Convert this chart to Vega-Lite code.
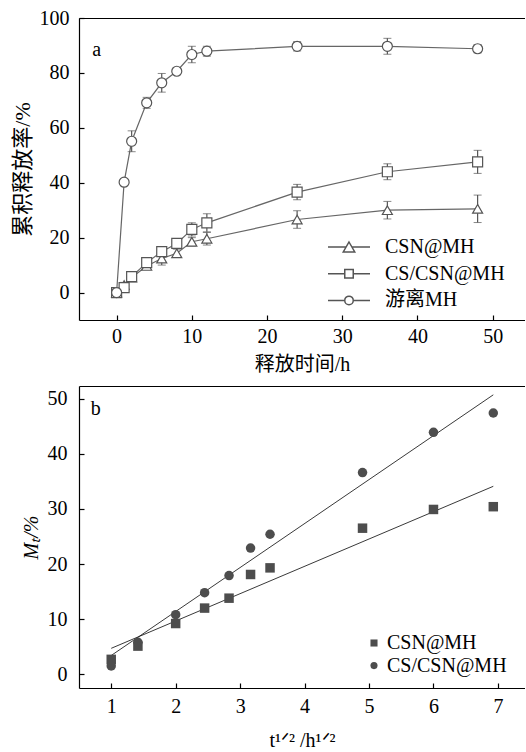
{
  "$schema": "https://vega.github.io/schema/vega-lite/v6.json",
  "padding": {"left": 11, "top": 8, "right": 0, "bottom": 0},
  "spacing": 12,
  "resolve": {"scale": {"shape": "independent"}, "legend": {"shape": "independent"}},
  "config": {
    "view": {"stroke": null},
    "font": "Liberation Serif, Noto Sans CJK SC",
    "axis": {
      "domainColor": "black", "domainWidth": 1.2, "tickColor": "black", "tickSize": -5, "tickWidth": 1.2,
      "labelFontSize": 20, "labelColor": "black", "labelFont": "Liberation Serif",
      "titleFontSize": 20, "titleFontWeight": "normal", "titleColor": "black",
      "titleFont": "Liberation Serif, Noto Sans CJK SC", "grid": false
    }
  },
  "datasets": {
    "release": [
      {"series": "CSN@MH", "t": 0, "y": 0, "err": 0},
      {"series": "CSN@MH", "t": 1, "y": 2.7, "err": 1},
      {"series": "CSN@MH", "t": 2, "y": 5.5, "err": 1},
      {"series": "CSN@MH", "t": 4, "y": 9.7, "err": 1},
      {"series": "CSN@MH", "t": 6, "y": 12.4, "err": 2.4},
      {"series": "CSN@MH", "t": 8, "y": 14.3, "err": 1.5},
      {"series": "CSN@MH", "t": 10, "y": 18.5, "err": 1.5},
      {"series": "CSN@MH", "t": 12, "y": 19.6, "err": 2.3},
      {"series": "CSN@MH", "t": 24, "y": 26.6, "err": 3.2},
      {"series": "CSN@MH", "t": 36, "y": 30.0, "err": 3.2},
      {"series": "CSN@MH", "t": 48, "y": 30.5, "err": 5},
      {"series": "CS/CSN@MH", "t": 0, "y": 0, "err": 0},
      {"series": "CS/CSN@MH", "t": 1, "y": 1.8, "err": 1},
      {"series": "CS/CSN@MH", "t": 2, "y": 5.8, "err": 1},
      {"series": "CS/CSN@MH", "t": 4, "y": 10.9, "err": 1},
      {"series": "CS/CSN@MH", "t": 6, "y": 14.9, "err": 1},
      {"series": "CS/CSN@MH", "t": 8, "y": 17.9, "err": 1.5},
      {"series": "CS/CSN@MH", "t": 10, "y": 23.0, "err": 2.4},
      {"series": "CS/CSN@MH", "t": 12, "y": 25.4, "err": 3.3},
      {"series": "CS/CSN@MH", "t": 24, "y": 36.6, "err": 2.8},
      {"series": "CS/CSN@MH", "t": 36, "y": 44.0, "err": 2.9},
      {"series": "CS/CSN@MH", "t": 48, "y": 47.6, "err": 4.2},
      {"series": "游离MH", "t": 0, "y": 0, "err": 0},
      {"series": "游离MH", "t": 1, "y": 40.2, "err": 1},
      {"series": "游离MH", "t": 2, "y": 55.1, "err": 3.8},
      {"series": "游离MH", "t": 4, "y": 69.1, "err": 2},
      {"series": "游离MH", "t": 6, "y": 76.4, "err": 3.4},
      {"series": "游离MH", "t": 8, "y": 80.6, "err": 1.2},
      {"series": "游离MH", "t": 10, "y": 86.7, "err": 3},
      {"series": "游离MH", "t": 12, "y": 87.9, "err": 1.8},
      {"series": "游离MH", "t": 24, "y": 89.7, "err": 1.7},
      {"series": "游离MH", "t": 36, "y": 89.7, "err": 2.9},
      {"series": "游离MH", "t": 48, "y": 88.8, "err": 1.5}
    ],
    "kinetics": [
      {"series": "CSN@MH", "s": 1, "y": 2.7},
      {"series": "CSN@MH", "s": 1.414, "y": 5.1},
      {"series": "CSN@MH", "s": 2, "y": 9.2},
      {"series": "CSN@MH", "s": 2.449, "y": 12.0},
      {"series": "CSN@MH", "s": 2.828, "y": 13.8},
      {"series": "CSN@MH", "s": 3.162, "y": 18.1},
      {"series": "CSN@MH", "s": 3.464, "y": 19.3},
      {"series": "CSN@MH", "s": 4.899, "y": 26.5},
      {"series": "CSN@MH", "s": 6, "y": 29.9},
      {"series": "CSN@MH", "s": 6.928, "y": 30.4},
      {"series": "CS/CSN@MH", "s": 1, "y": 1.5},
      {"series": "CS/CSN@MH", "s": 1.414, "y": 5.8},
      {"series": "CS/CSN@MH", "s": 2, "y": 10.8},
      {"series": "CS/CSN@MH", "s": 2.449, "y": 14.8},
      {"series": "CS/CSN@MH", "s": 2.828, "y": 17.9},
      {"series": "CS/CSN@MH", "s": 3.162, "y": 22.9},
      {"series": "CS/CSN@MH", "s": 3.464, "y": 25.4},
      {"series": "CS/CSN@MH", "s": 4.899, "y": 36.6},
      {"series": "CS/CSN@MH", "s": 6, "y": 43.9},
      {"series": "CS/CSN@MH", "s": 6.928, "y": 47.4}
    ],
    "fits": [
      {"series": "CSN@MH", "s": 1, "y": 4.7},
      {"series": "CSN@MH", "s": 6.928, "y": 34.1},
      {"series": "CS/CSN@MH", "s": 1, "y": 3.4},
      {"series": "CS/CSN@MH", "s": 6.928, "y": 50.7}
    ]
  },
  "vconcat": [
    {
      "width": 446,
      "height": 302,
      "data": {"name": "release"},
      "resolve": {"axis": {"x": "independent", "y": "independent"}, "scale": {"shape": "independent"}, "legend": {"shape": "independent"}},
      "layer": [
        {
          "mark": {"type": "line", "color": "#666", "strokeWidth": 1.2},
          "encoding": {
            "x": {"field": "t", "type": "quantitative", "scale": {"domain": [-5, 54.3], "nice": false, "zero": false},
                  "axis": {"values": [0, 10, 20, 30, 40, 50], "labelPadding": 11, "title": "释放时间/h", "titlePadding": 8}},
            "y": {"field": "y", "type": "quantitative", "scale": {"domain": [-10, 100], "nice": false, "zero": false},
                  "axis": {"values": [0, 20, 40, 60, 80, 100], "labelPadding": 15, "title": "累积释放率/%", "titleFontSize": 22, "titlePadding": 5}},
            "detail": {"field": "series"}
          }
        },
        {
          "mark": {"type": "errorbar", "color": "#555", "ticks": {"size": 8}, "rule": {"strokeWidth": 1.2}},
          "encoding": {
            "x": {"field": "t", "type": "quantitative", "axis": null},
            "y": {"field": "y", "type": "quantitative", "axis": null},
            "yError": {"field": "err"}
          }
        },
        {
          "mark": {"type": "point", "filled": false, "fill": "white", "color": "#555", "strokeWidth": 1.2, "size": 100, "opacity": 1},
          "encoding": {
            "x": {"field": "t", "type": "quantitative", "axis": null},
            "y": {"field": "y", "type": "quantitative", "axis": null},
            "shape": {
              "field": "series", "type": "nominal",
              "scale": {"domain": ["CSN@MH", "CS/CSN@MH", "游离MH"], "range": ["triangle-up", "square", "circle"]},
              "legend": null
            }
          }
        },
        {
          "mark": {"type": "point", "filled": false, "fill": "white", "color": "#555", "strokeWidth": 1.2, "size": 100, "opacity": 0},
          "encoding": {
            "x": {"field": "t", "type": "quantitative", "axis": null},
            "y": {"field": "y", "type": "quantitative", "axis": null},
            "shape": {
              "field": "series", "type": "nominal",
              "scale": {"domain": ["CSN@MH", "CS/CSN@MH", "游离MH"],
                        "range": ["M-4.2,0H-0.55M0.55,0H4.2M0,-1L1.15,1H-1.15Z", "M-4.2,0H-0.85M0.85,0H4.2M-0.85,-0.85H0.85V0.85H-0.85Z", "M-4.2,0H-0.85M0.85,0H4.2M0.85,0A0.85,0.85,0,1,1,-0.85,0A0.85,0.85,0,1,1,0.85,0Z"]},
              "legend": {
                "orient": "none", "legendX": 260, "legendY": 219, "title": null,
                "labelFontSize": 20, "labelFont": "Liberation Serif, Noto Sans CJK SC", "labelColor": "black",
                "symbolSize": 100, "labelOffset": 26, "rowPadding": 6.7, "symbolOpacity": 1,
                "encode": {
                  "symbols": {
                    "fill": {"value": "white"},
                    "stroke": {"value": "#555"},
                    "strokeWidth": {"value": 1.2},
                    "opacity": {"value": 1}
                  }
                }
              }
            }
          }
        },
        {
          "data": {"values": [{"x": -2.66, "y": 88.5, "label": "a"}]},
          "mark": {"type": "text", "fontSize": 20, "font": "Liberation Serif", "color": "black"},
          "encoding": {
            "x": {"field": "x", "type": "quantitative", "axis": {"orient": "top", "labels": false, "ticks": false, "title": null}},
            "y": {"field": "y", "type": "quantitative", "axis": null},
            "text": {"field": "label"}
          }
        }
      ]
    },
    {
      "width": 446,
      "height": 302,
      "resolve": {"axis": {"x": "independent", "y": "independent"}},
      "layer": [
        {
          "data": {"name": "fits"},
          "mark": {"type": "line", "color": "#222", "strokeWidth": 0.9},
          "encoding": {
            "x": {"field": "s", "type": "quantitative", "scale": {"domain": [0.5, 7.42], "nice": false, "zero": false},
                  "axis": {"values": [1, 2, 3, 4, 5, 6, 7], "labelPadding": 13, "title": "t¹ᐟ² /h¹ᐟ²", "titlePadding": 14}},
            "y": {"field": "y", "type": "quantitative", "scale": {"domain": [-2.5, 52.3], "nice": false, "zero": false},
                  "axis": {"values": [0, 10, 20, 30, 40, 50], "labelPadding": 17, "title": "Mₜ/%", "titleFontStyle": "italic", "titlePadding": 6}},
            "detail": {"field": "series"}
          }
        },
        {
          "data": {"name": "kinetics"},
          "mark": {"type": "point", "filled": true, "color": "#4d4d4d", "size": 90, "opacity": 1},
          "encoding": {
            "x": {"field": "s", "type": "quantitative", "axis": null},
            "y": {"field": "y", "type": "quantitative", "axis": null},
            "shape": {
              "field": "series", "type": "nominal",
              "scale": {"domain": ["CSN@MH", "CS/CSN@MH"], "range": ["square", "circle"]},
              "legend": {
                "orient": "none", "legendX": 285, "legendY": 247, "title": null,
                "labelFontSize": 20, "labelFont": "Liberation Serif", "labelColor": "black",
                "symbolSize": 50, "labelOffset": 3, "rowPadding": 2.6,
                "symbolFillColor": "#4d4d4d", "symbolStrokeColor": "#4d4d4d",
                "encode": {"symbols": {"size": {"value": 50}}}
              }
            }
          }
        },
        {
          "data": {"values": [{"x": 0.76, "y": 48.1, "label": "b"}]},
          "mark": {"type": "text", "fontSize": 20, "font": "Liberation Serif", "color": "black"},
          "encoding": {
            "x": {"field": "x", "type": "quantitative", "axis": {"orient": "top", "labels": false, "ticks": false, "title": null}},
            "y": {"field": "y", "type": "quantitative", "axis": null},
            "text": {"field": "label"}
          }
        }
      ]
    }
  ]
}
